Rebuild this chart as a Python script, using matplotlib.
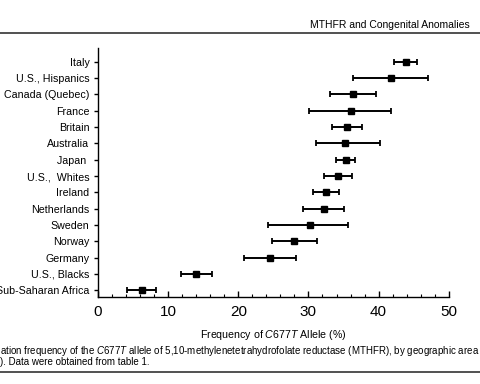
import numpy as np
import matplotlib
matplotlib.use('Agg')
import matplotlib.pyplot as plt
from matplotlib.ticker import MultipleLocator

plt.rcParams['font.family'] = ['Liberation Sans', 'DejaVu Sans']
plt.rcParams['mathtext.fontset'] = 'custom'
plt.rcParams['mathtext.rm'] = 'Liberation Sans'
plt.rcParams['mathtext.it'] = 'Liberation Sans:italic'

# populations, bottom to top
populations = ['Sub-Saharan Africa', 'U.S., Blacks', 'Germany', 'Norway', 'Sweden',
               'Netherlands', 'Ireland', 'U.S.,  Whites', 'Japan ', 'Australia',
               'Britain', 'France', 'Canada (Quebec)', 'U.S., Hispanics', 'Italy']
freq = [6.3, 14.0, 24.5, 28.0, 30.2, 32.2, 32.5, 34.2, 35.3, 35.2, 35.5, 36.1, 36.4, 41.7, 43.9]
ci_low = [4.2, 11.8, 20.8, 24.8, 24.3, 29.2, 30.7, 32.2, 33.9, 31.1, 33.3, 30.1, 33.0, 36.3, 42.2]
ci_high = [8.3, 16.2, 28.2, 31.2, 35.7, 35.1, 34.3, 36.2, 36.6, 40.2, 37.6, 41.8, 39.6, 47.0, 45.4]

freq = np.array(freq)
err = [freq - np.array(ci_low), np.array(ci_high) - freq]
ypos = np.arange(len(populations))

fig = plt.figure(figsize=(4.8, 3.84), dpi=100)
ax = fig.add_axes([0.204, 0.2266, 0.731, 0.6484])

ax.errorbar(freq, ypos, xerr=err, fmt='s', color='black', ecolor='black',
            markersize=5, elinewidth=1.4, capsize=2, capthick=1.3)

ax.set_xlim(0, 50)
ax.set_ylim(-0.41, 14.84)
ax.set_yticks(ypos)
ax.set_yticklabels(populations, fontsize=7.7)
ax.set_xticks([0, 10, 20, 30, 40, 50])
ax.set_xticklabels(['0', '10', '20', '30', '40', '50'], fontsize=11)
ax.xaxis.set_minor_locator(MultipleLocator(2))
ax.tick_params(axis='x', which='major', direction='in', length=4, width=1, pad=6)
ax.tick_params(axis='x', which='minor', direction='in', length=2, width=0.8)
ax.tick_params(axis='y', direction='out', length=3, width=1, pad=3)
ax.spines['top'].set_visible(False)
ax.spines['right'].set_visible(False)
ax.spines['left'].set_linewidth(1)
ax.spines['bottom'].set_linewidth(1)
ax.set_xlabel(r'Frequency of $\mathit{C677T}$ Allele (%)', fontsize=7.7, labelpad=6)

# page header and caption
fig.text(0.978, 0.935, 'MTHFR and Congenital Anomalies', ha='right', va='center', fontsize=7.5)
fig.add_artist(plt.Line2D([0, 1], [0.913, 0.913], color='#333333', linewidth=1.2))
fig.text(0.0, 0.086, r'ation frequency of the $\mathit{C677T}$ allele of 5,10-methylenetetrahydrofolate reductase (MTHFR), by geographic area',
         ha='left', va='center', fontsize=7)
fig.text(0.0, 0.058, '). Data were obtained from table 1.', ha='left', va='center', fontsize=7)
fig.add_artist(plt.Line2D([0, 1], [0.031, 0.031], color='#333333', linewidth=1.2))

fig.savefig('out.png', dpi=100)
